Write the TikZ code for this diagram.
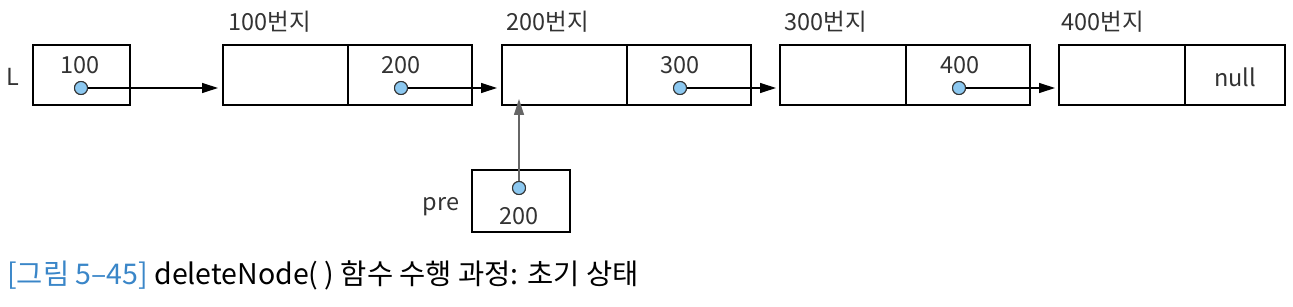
\documentclass[tikz,border=0pt]{standalone}
\usepackage{fontspec}
\setmainfont{Noto Sans CJK KR}
\usetikzlibrary{arrows.meta}
\definecolor{dotblue}{HTML}{8CC8F0}
\definecolor{capblue}{HTML}{3A86C8}
\definecolor{txt}{HTML}{333333}
\begin{document}
\begin{tikzpicture}[x=1pt,y=-1pt,
  box/.style={draw=black,line width=1.6pt},
  lbl/.style={font=\fontsize{23.5}{23.5}\selectfont,text=txt,inner sep=0pt},
  dot/.style={circle,draw=txt,line width=1pt,fill=dotblue,minimum size=13pt,inner sep=0pt},
  link/.style={line width=1.2pt,-{Triangle[length=16pt,width=10pt]}}
]
\useasboundingbox (0,0) rectangle (1293,307);
% L
\draw[box] (33,45) rectangle (130,105);
\node[lbl] (Lt) at (13,77) {L};
\node[lbl] (t0) at (80,65) {100};
\node[dot] (d0) at (81,88) {};
% node 1
\draw[box] (223,45) rectangle (472,105);
\draw[box] (348,45) -- (348,105);
\coordinate (n1) at (223,88);
\node[lbl] (a1) at (270,22) {100번지};
\node[lbl] (t1) at (401,65) {200};
\node[dot] (d1) at (401,88) {};
% node 2
\draw[box] (502,45) rectangle (751,105);
\draw[box] (627,45) -- (627,105);
\coordinate (n2) at (502,88);
\coordinate (n2b) at (519,105);
\node[lbl] (a2) at (548,22) {200번지};
\node[lbl] (t2) at (680,65) {300};
\node[dot] (d2) at (680,88) {};
% node 3
\draw[box] (780,45) rectangle (1030,105);
\draw[box] (906,45) -- (906,105);
\coordinate (n3) at (780,88);
\node[lbl] (a3) at (826,22) {300번지};
\node[lbl] (t3) at (960,65) {400};
\node[dot] (d3) at (959,88) {};
% node 4
\draw[box] (1059,45) rectangle (1285,105);
\draw[box] (1185,45) -- (1185,105);
\coordinate (n4) at (1059,88);
\node[lbl] (a4) at (1103,22) {400번지};
\node[lbl] (t4) at (1235,77) {null};
% pre
\draw[box] (472,170) rectangle (570,232);
\node[lbl] (pl) at (441,207) {pre};
\node[dot] (dp) at (519,188) {};
\node[lbl] (tp) at (519,216) {200};
% links
\draw[link] (d0.center) -- ([xshift=-5pt]n1);
\draw[link] (d1.center) -- ([xshift=-5pt]n2);
\draw[link] (d2.center) -- ([xshift=-4pt]n3);
\draw[link] (d3.center) -- ([xshift=-4pt]n4);
\draw[link,draw=gray!80!black,fill=gray!80!black] (dp.center) -- ([yshift=6pt]n2b);
\node[dot] at (d0) {};
\node[dot] at (d1) {};
\node[dot] at (d2) {};
\node[dot] at (d3) {};
\node[dot] at (dp) {};
% caption
\node[anchor=west,inner sep=0pt,font=\fontsize{28.5}{28.5}\selectfont] (cap) at (7,275) {\textcolor{capblue}{[그림 5–45]} deleteNode( ) 함수 수행 과정: 초기 상태};
\end{tikzpicture}
\end{document}
